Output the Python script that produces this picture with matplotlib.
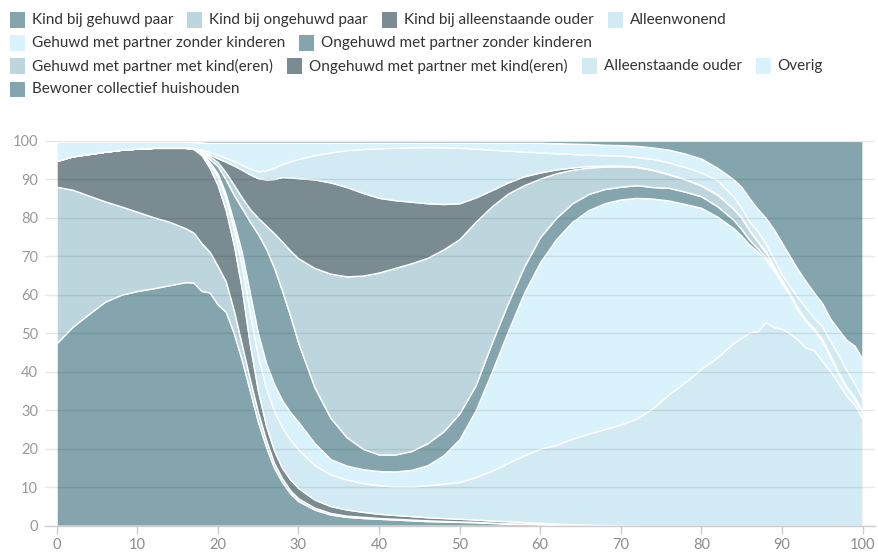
import matplotlib
matplotlib.use("Agg")
import matplotlib.pyplot as plt
from matplotlib.patches import Rectangle

plt.rcParams['font.family'] = ['Lato', 'DejaVu Sans']

# ---------------- data (percentages per age) ----------------
ages = [0, 2, 4, 6, 8, 10, 12, 14, 16, 17, 18, 19, 20, 21, 22, 23, 24, 25, 26, 27, 28, 29, 30,
        32, 34, 36, 38, 40, 42, 44, 46, 48, 50, 52, 54, 56, 58, 60, 62, 64, 66, 68, 70, 72, 74,
        76, 78, 80, 82, 84, 85, 86, 87, 88, 89, 90, 91, 92, 93, 94, 95, 96, 97, 98, 99, 100]

kind_gehuwd_paar = [47.4, 51.7, 55.0, 58.2, 60.0, 61.0, 61.7, 62.5, 63.3, 63.2, 61.0, 60.6, 57.5,
                    55.6, 50.0, 43.0, 35.0, 27.0, 20.5, 15.0, 11.3, 8.4, 6.4,
                    4.2, 2.9, 2.3, 2.0, 1.8, 1.6, 1.4, 1.2, 1.1, 1.0, 0.9, 0.7, 0.6, 0.5, 0.4, 0.3,
                    0.2, 0.15, 0.1, 0.05, 0, 0,
                    0, 0, 0, 0, 0, 0, 0, 0, 0, 0, 0, 0, 0, 0, 0, 0, 0, 0, 0, 0, 0]
kind_ongehuwd_paar = [40.7, 35.6, 30.8, 26.1, 23.0, 20.6, 18.5, 16.5, 14.0, 13.0, 12.4, 10.6, 10.0,
                      7.9, 6.0, 4.0, 3.0, 2.5, 1.8, 1.3, 1.0, 0.8, 0.7,
                      0.5, 0.4, 0.3, 0.3, 0.2, 0.2, 0.2, 0.2, 0.15, 0.1, 0.1, 0.1, 0.05, 0.05, 0.05,
                      0.05, 0.05, 0.02, 0, 0, 0, 0,
                      0, 0, 0, 0, 0, 0, 0, 0, 0, 0, 0, 0, 0, 0, 0, 0, 0, 0, 0, 0, 0]
kind_alleenstaande_ouder = [6.7, 8.7, 10.8, 12.9, 14.7, 16.4, 18.0, 19.2, 20.9, 21.7, 22.9, 21.8,
                            21.0, 18.5, 17.0, 14.5, 9.0, 5.5, 3.7, 3.2, 2.7, 2.8, 2.7,
                            2.1, 1.8, 1.6, 1.3, 1.1, 1.0, 0.9, 0.8, 0.75, 0.7, 0.6, 0.55, 0.5, 0.4,
                            0.3, 0.2, 0.15, 0.11, 0.08, 0.05, 0.05, 0,
                            0, 0, 0, 0, 0, 0, 0, 0, 0, 0, 0, 0, 0, 0, 0, 0, 0, 0, 0, 0, 0]
alleenwonend = [0, 0, 0, 0, 0, 0, 0, 0, 0, 0.1, 0.3, 1.0, 2.3, 3.2, 4.0, 6.0, 8.0, 9.0, 9.8, 10.3,
                10.5, 10.3, 10.0,
                9.0, 8.2, 7.8, 7.5, 7.4, 7.4, 7.7, 8.3, 8.9, 9.6, 11.0, 12.95, 15.15, 17.35, 19.25,
                20.45, 22.2, 23.62, 24.92, 26.2, 27.85, 30.6,
                34.2, 37.3, 40.8, 43.8, 47.5, 48.8, 50.3, 50.5, 52.9, 51.6, 51.2, 50.0, 48.3, 46.2,
                45.6, 42.8, 40.2, 37.0, 33.8, 31.5, 27.9]
gehuwd_zonder_kinderen = [0, 0, 0, 0, 0, 0, 0, 0, 0, 0.05, 0.2, 0.5, 0.7, 1.0, 2.0, 3.5, 5.5, 6.0,
                          6.5, 7.0, 7.1, 7.2, 7.2,
                          5.7, 4.0, 3.6, 3.6, 3.7, 3.9, 4.3, 5.2, 7.4, 11.1, 17.4, 25.7, 34.2,
                          42.2, 48.5, 53.5, 56.4, 58.1, 58.7, 58.5, 57.3, 54.4,
                          50.3, 46.3, 41.8, 36.5, 29.8, 26.5, 22.7, 20.7, 16.3, 14.7, 11.8, 9.8,
                          7.7, 6.8, 5.2, 5.2, 3.6, 2.5, 2.0, 1.5, 1.4]
ongehuwd_zonder_kinderen = [0, 0, 0, 0, 0, 0, 0, 0, 0, 0.05, 0.2, 0.8, 2.0, 3.8, 7.0, 11.5, 18.5,
                            25.8, 29.7, 30.2, 28.4, 25.0, 20.5,
                            14.5, 10.7, 7.4, 5.3, 4.3, 4.4, 4.9, 5.7, 6.2, 6.7, 6.5, 7.5, 7.3, 6.8,
                            6.5, 5.5, 4.8, 4.2, 3.7, 3.3, 3.3, 3.0,
                            3.3, 3.2, 3.0, 2.7, 2.2, 1.7, 1.2, 0.8, 0.6, 0.4, 0.3, 0.2, 0.2, 0.2,
                            0.2, 0.2, 0.2, 0.2, 0.2, 0.2, 0.2]
gehuwd_met_kinderen = [0, 0, 0, 0, 0, 0, 0, 0, 0, 0.05, 0.3, 0.7, 1.0, 1.8, 2.6, 2.8, 3.3, 4.2,
                       6.0, 9.0, 12.8, 17.0, 22.0,
                       31.0, 37.5, 41.8, 45.0, 47.3, 48.5, 48.8, 48.2, 47.3, 45.3, 42.5, 35.5,
                       28.5, 21.2, 15.2, 11.6, 8.7, 6.9, 5.8, 5.3, 4.7, 4.4,
                       3.5, 3.2, 2.8, 3.0, 2.8, 3.0, 2.4, 1.8, 1.2, 0.6, 0.4, 0.3, 0.2, 0.2, 0.2,
                       0.2, 0.2, 0.2, 0.2, 0.2, 0.2]
ongehuwd_met_kinderen = [0, 0, 0, 0, 0, 0, 0, 0, 0, 0.05, 0.1, 0.4, 1.0, 2.8, 5.0, 7.2, 9.0, 10.3,
                         12.0, 14.1, 16.8, 19.0, 20.8,
                         23.0, 23.7, 23.2, 21.5, 19.4, 17.6, 16.0, 14.2, 11.8, 9.3, 6.3, 4.2, 2.9,
                         2.3, 1.6, 1.0, 0.6, 0.4, 0.3, 0.2, 0.15, 0.1,
                         0.1, 0.1, 0.1, 0.1, 0.1, 0.1, 0.1, 0.1, 0.3, 0.1, 0.1, 0.05, 0.05, 0.05,
                         0.05, 0.05, 0.05, 0.05, 0.05, 0.05, 0.05]
alleenstaande_ouder = [0, 0, 0, 0, 0, 0, 0, 0, 0, 0.05, 0.3, 0.7, 0.9, 1.0, 1.2, 1.3, 1.5, 1.8,
                       2.4, 2.9, 3.4, 4.2, 5.0,
                       6.3, 7.8, 9.6, 11.4, 12.9, 13.6, 14.1, 14.6, 14.7, 14.4, 12.7, 10.5, 8.3,
                       6.4, 5.2, 4.2, 3.5, 2.9, 2.7, 2.6, 2.45, 2.8,
                       3.0, 3.1, 3.3, 3.7, 3.1, 2.4, 2.3, 2.6, 2.0, 1.9, 1.5, 1.85, 2.75, 3.15,
                       2.75, 3.35, 3.75, 4.55, 4.25, 3.55, 3.35]
overig = [5.0, 3.8, 3.2, 2.6, 2.1, 1.8, 1.6, 1.6, 1.6, 1.45, 1.9, 2.4, 3.1, 3.9, 4.7, 5.7, 6.7, 7.4,
          7.1, 6.5, 5.5, 4.8, 4.2,
          3.2, 2.5, 1.9, 1.6, 1.4, 1.3, 1.2, 1.1, 1.2, 1.3, 1.5, 1.8, 2.0, 2.3, 2.5, 2.6, 2.7,
          2.8, 2.7, 2.7, 2.9, 3.0,
          3.3, 3.5, 3.6, 3.2, 4.5, 5.5, 6.0, 5.8, 6.7, 7.7, 8.2, 7.8, 7.3, 6.8, 6.5, 6.0, 5.8,
          6.5, 7.8, 9.8, 10.2]
bewoner_collectief = [0.2, 0.2, 0.2, 0.2, 0.2, 0.2, 0.2, 0.2, 0.2, 0.3, 0.4, 0.5, 0.5, 0.5, 0.5,
                      0.5, 0.5, 0.5, 0.5, 0.5, 0.5, 0.5, 0.5,
                      0.5, 0.5, 0.5, 0.5, 0.5, 0.5, 0.5, 0.5, 0.5, 0.5, 0.5, 0.5, 0.5, 0.5, 0.5,
                      0.6, 0.7, 0.8, 1.0, 1.1, 1.3, 1.7,
                      2.3, 3.3, 4.6, 7.0, 10.0, 12.0, 15.0, 17.7, 20.0, 23.0, 26.5, 30.0, 33.5,
                      36.6, 39.5, 42.2, 46.2, 49.0, 51.7, 53.2, 56.7]

labels = ["Kind bij gehuwd paar", "Kind bij ongehuwd paar", "Kind bij alleenstaande ouder",
          "Alleenwonend", "Gehuwd met partner zonder kinderen",
          "Ongehuwd met partner zonder kinderen", "Gehuwd met partner met kind(eren)",
          "Ongehuwd met partner met kind(eren)", "Alleenstaande ouder", "Overig",
          "Bewoner collectief huishouden"]
series = [kind_gehuwd_paar, kind_ongehuwd_paar, kind_alleenstaande_ouder, alleenwonend,
          gehuwd_zonder_kinderen, ongehuwd_zonder_kinderen, gehuwd_met_kinderen,
          ongehuwd_met_kinderen, alleenstaande_ouder, overig, bewoner_collectief]

x_ticks = [0, 10, 20, 30, 40, 50, 60, 70, 80, 90, 100]
y_ticks = [0, 10, 20, 30, 40, 50, 60, 70, 80, 90, 100]

# ---------------- style ----------------
TEAL = "#84a5ad"
BLUEGRAY = "#bdd6de"
DARK = "#7a8b92"
LIGHT = "#d2eaf3"
VLIGHT = "#daf2fb"
colors = [TEAL, BLUEGRAY, DARK, LIGHT, VLIGHT, TEAL, BLUEGRAY, DARK, LIGHT, VLIGHT, TEAL]

W, H = 879, 556
fig = plt.figure(figsize=(W / 100, H / 100), dpi=100)

y0, y100 = 525.7, 140.9
ax = fig.add_axes([45 / W, (H - y0) / H, 830 / W, (y0 - y100) / H])
ax.stackplot(ages, *series, colors=colors, edgecolor="white", linewidth=1.0)

ax.set_xlim(-1.43, 101.55)
ax.set_ylim(0, 100)
ax.set_xticks(x_ticks)
ax.set_yticks(y_ticks)
ax.set_axisbelow(False)
ax.yaxis.grid(True, color="black", alpha=0.09, linewidth=1.0)
ax.xaxis.grid(False)
for s in ["top", "right", "left"]:
    ax.spines[s].set_visible(False)
ax.spines["bottom"].set_color("#cccccc")
ax.spines["bottom"].set_linewidth(1.0)
ax.tick_params(axis="y", length=0, pad=5, labelsize=10.5, labelcolor="#999999")
ax.tick_params(axis="x", length=6, width=1, color="#cccccc", pad=3, labelsize=10.5,
               labelcolor="#8c8c8c")

# ---------------- legend (flow layout, manual rows) ----------------
rows = [[0, 1, 2, 3], [4, 5], [6, 7, 8, 9], [10]]
row_y = [20, 43, 66, 89]
sq = 15
renderer = fig.canvas.get_renderer()
for r, idxs in enumerate(rows):
    x = 10
    yc = row_y[r]
    for i in idxs:
        fig.patches.append(Rectangle((x / W, (H - yc - sq / 2) / H), sq / W, sq / H,
                                     transform=fig.transFigure, facecolor=colors[i],
                                     edgecolor="none"))
        t = fig.text((x + sq + 7) / W, (H - yc) / H, labels[i], fontsize=11,
                     color="#333333", va="center", ha="left")
        bb = t.get_window_extent(renderer=renderer)
        x = bb.x1 + 14

fig.savefig("out.png", dpi=100)
